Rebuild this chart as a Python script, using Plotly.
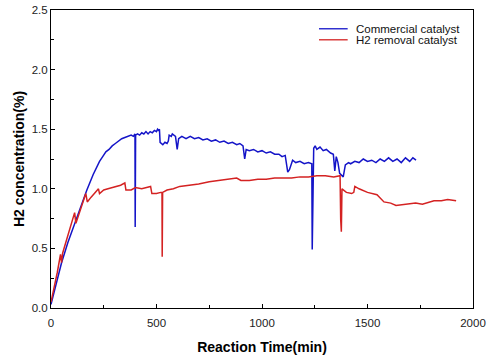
import plotly.graph_objects as go

# Commercial catalyst (blue)
commercial_time = [0, 20, 50, 80, 110, 140, 170, 200, 230, 245, 260, 275, 290, 305, 320, 335, 350, 365, 380, 390, 398, 399, 401,
                   410, 420, 430, 440, 450, 460, 470, 480, 490, 500, 505, 510, 514, 517, 530, 540, 550, 556, 560, 570, 575, 585, 590, 598, 605,
                   620, 640, 660, 680, 700, 720, 740, 760, 780, 800, 820, 840, 860, 880, 895, 910, 918, 925, 940, 960, 980, 1000, 1020, 1040, 1060, 1080, 1095, 1110,
                   1122, 1130, 1145, 1160, 1180, 1200, 1220, 1236, 1238, 1241, 1245, 1252, 1260, 1275, 1290, 1305, 1325, 1338,
                   1345, 1352, 1360, 1368, 1385, 1395, 1410, 1420, 1440, 1460, 1480, 1500, 1520, 1540, 1560, 1580, 1600, 1620, 1640, 1660,
                   1680, 1700, 1715, 1730]
commercial_h2 = [0.03, 0.18, 0.38, 0.55, 0.70, 0.85, 0.99, 1.12, 1.23, 1.27, 1.31, 1.33, 1.36, 1.38, 1.40, 1.42, 1.43, 1.44, 1.45, 1.44, 1.46, 0.68, 1.45,
                 1.46, 1.45, 1.47, 1.46, 1.48, 1.46, 1.48, 1.47, 1.49, 1.48, 1.50, 1.49, 1.50, 1.39, 1.37, 1.39, 1.38, 1.40, 1.45, 1.44, 1.46, 1.45, 1.44, 1.33, 1.42,
                 1.44, 1.42, 1.44, 1.42, 1.43, 1.41, 1.42, 1.40, 1.41, 1.39, 1.40, 1.38, 1.39, 1.37, 1.38, 1.36, 1.25, 1.33, 1.32, 1.33, 1.31, 1.32, 1.30, 1.31, 1.29, 1.29, 1.27, 1.28,
                 1.14, 1.16, 1.24, 1.22, 1.23, 1.21, 1.22, 1.21, 0.49, 1.22, 1.34, 1.36, 1.33, 1.35, 1.32, 1.33, 1.30, 1.29,
                 1.15, 1.27, 1.22, 1.13, 1.10, 1.20, 1.22, 1.21, 1.23, 1.22, 1.25, 1.23, 1.24, 1.22, 1.25, 1.23, 1.26, 1.23, 1.25, 1.22,
                 1.26, 1.23, 1.26, 1.24]

# H2 removal catalyst (red)
removal_time = [0, 15, 30, 45, 50, 55, 70, 90, 105, 112, 118, 130, 150, 165, 172, 190, 210, 225, 230,
                250, 270, 290, 310, 330, 350, 355, 380, 400, 430, 460, 472, 478, 500, 520, 526, 527,
                529, 550, 580, 610, 650, 700, 750, 800, 850, 880, 900, 940, 980, 1020, 1060, 1100,
                1140, 1180, 1220, 1260, 1300, 1340, 1370, 1373, 1376, 1379, 1400, 1425, 1435, 1440,
                1460, 1500, 1545, 1578, 1610, 1635, 1680, 1728, 1760, 1815, 1850, 1880, 1920]
removal_h2 = [0.05, 0.17, 0.30, 0.45, 0.38, 0.46, 0.55, 0.66, 0.76, 0.80, 0.71, 0.78, 0.88, 0.96, 0.89, 0.93, 0.97, 1.00, 0.96,
              0.99, 1.00, 1.01, 1.02, 1.03, 1.05, 0.99, 0.99, 1.01, 1.00, 1.01, 1.02, 0.96, 0.96, 0.97, 0.97, 0.43,
              0.97, 0.99, 1.00, 1.02, 1.03, 1.04, 1.06, 1.07, 1.08, 1.09, 1.07, 1.07, 1.08, 1.08, 1.09, 1.09,
              1.09, 1.10, 1.10, 1.11, 1.11, 1.10, 1.11, 0.74, 0.64, 1.00, 0.97, 0.96, 0.97, 1.02,
              1.00, 0.97, 0.95, 0.89, 0.88, 0.86, 0.87, 0.88, 0.87, 0.90, 0.90, 0.91, 0.90]

series_names = ["Commercial catalyst", "H2 removal catalyst"]
series_colors = ["#1414C8", "#D42222"]
x_ticks = [0, 500, 1000, 1500, 2000]
y_ticks = [0, 0.5, 1.0, 1.5, 2.0, 2.5]
y_tick_labels = ["0.0", "0.5", "1.0", "1.5", "2.0", "2.5"]

FONT = "Liberation Sans, Arial, sans-serif"

fig = go.Figure()
fig.add_trace(go.Scatter(x=commercial_time, y=commercial_h2, mode="lines",
                         name=series_names[0], line=dict(color=series_colors[0], width=1.5)))
fig.add_trace(go.Scatter(x=removal_time, y=removal_h2, mode="lines",
                         name=series_names[1], line=dict(color=series_colors[1], width=1.5)))

axis_common = dict(showline=True, linecolor="black", linewidth=1, mirror=True, automargin=False,
                   ticks="inside", ticklen=4, tickcolor="black", showgrid=False, zeroline=False,
                   tickfont=dict(family=FONT, size=11.5, color="#222"))

fig.update_xaxes(range=[0, 2000], tickvals=x_ticks, ticklabelstandoff=4,
                 minor=dict(ticks="inside", ticklen=3, tickcolor="black", dtick=250),
                 title=dict(text="<b>Reaction Time(min)</b>", font=dict(family=FONT, size=14, color="black"), standoff=14),
                 **axis_common)
fig.update_yaxes(range=[0, 2.5], tickvals=y_ticks, ticktext=y_tick_labels,
                 minor=dict(ticks="inside", ticklen=3, tickcolor="black", dtick=0.25),
                 title=dict(text="<b>H2 concentration(%)</b>", font=dict(family=FONT, size=14, color="black"), standoff=3),
                 **axis_common)

# legend drawn as line samples + text
leg_y = [0.937, 0.900]
for name, color, yy in zip(series_names, series_colors, leg_y):
    fig.add_shape(type="line", xref="paper", yref="paper", x0=0.635, x1=0.703, y0=yy, y1=yy,
                  line=dict(color=color, width=1.3))
    fig.add_annotation(xref="paper", yref="paper", x=0.718, y=yy, xanchor="left", yanchor="middle",
                       text=name, showarrow=False, font=dict(family=FONT, size=11.5, color="#111"))

fig.update_layout(
    width=489, height=359,
    margin=dict(l=51, r=16, t=10, b=51),
    paper_bgcolor="white", plot_bgcolor="white",
    showlegend=False,
)

fig.write_html("out.html", config={"displayModeBar": False},
               post_script="document.body.style.margin='0px';")
